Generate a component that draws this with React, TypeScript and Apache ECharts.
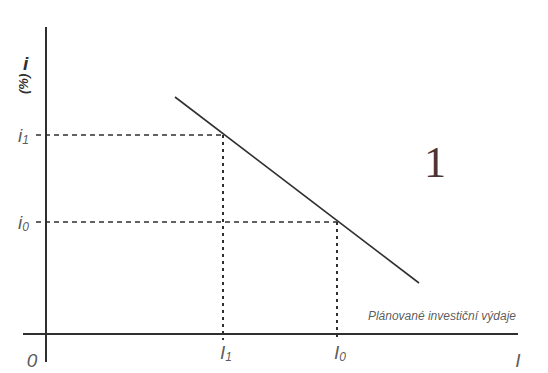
import React, { useEffect, useRef } from "react";
import * as echarts from "echarts";

// Investment quantities (I1, I0) and interest rates (i1, i0) in chart units
const investLevels = [17.7, 29.1];
const rateLevels = [19.9, 11.2];
const investNames = ["1", "0"];
const rateNames = ["1", "0"];
// Investment demand line endpoints
const demandX = [12.9, 37.3];
const demandY = [23.7, 5.1];
// Axis extents
const xRange = [-2.3, 47.2];
const yRange = [-2.8, 30.7];

const INK = "#2f2f2f";
const FONT = "Liberation Sans";

export default function App() {
  const ref = useRef<HTMLDivElement>(null);
  useEffect(() => {
    if (!ref.current) return;
    const chart = echarts.init(ref.current, undefined, { renderer: "svg" });
    const series: any[] = [];
    // axes
    series.push({
      type: "line",
      data: [[xRange[0], 0], [xRange[1], 0]],
      symbol: "none",
      lineStyle: { color: INK, width: 2 },
      clip: false,
    });
    series.push({
      type: "line",
      data: [[0, yRange[0]], [0, yRange[1]]],
      symbol: "none",
      lineStyle: { color: INK, width: 2 },
      clip: false,
    });
    // demand line
    series.push({
      type: "line",
      data: demandX.map((x, k) => [x, demandY[k]]),
      symbol: "none",
      lineStyle: { color: INK, width: 1.6 },
    });
    investLevels.forEach((I, k) => {
      const r = rateLevels[k];
      series.push({
        type: "line",
        data: [[-1.0, r], [I, r]],
        symbol: "none",
        clip: false,
        lineStyle: { color: INK, width: 1.6, type: [5, 4] },
      });
      series.push({
        type: "line",
        data: [[I, r], [I, -0.6]],
        symbol: "none",
        clip: false,
        lineStyle: { color: INK, width: 2, type: [3, 4] },
      });
    });
    const labelRich = {
      b: { fontFamily: FONT, fontStyle: "italic", fontSize: 19, color: INK },
      s: { fontFamily: FONT, fontStyle: "italic", fontSize: 12, color: INK, padding: [9, 0, 0, 0] },
    };
    // y tick labels
    series.push({
      type: "scatter",
      symbolSize: 0,
      clip: false,
      data: rateLevels.map((r, k) => ({
        value: [0, r],
        label: { formatter: "{b|i}{s|" + rateNames[k] + "}" },
      })),
      label: { show: true, position: "left", distance: 17, rich: labelRich },
    });
    // x tick labels
    series.push({
      type: "scatter",
      symbolSize: 0,
      clip: false,
      data: investLevels.map((I, k) => ({
        value: [I, 0],
        label: { formatter: "{b|I}{s|" + investNames[k] + "}" },
      })),
      label: { show: true, position: "bottom", distance: 8, offset: [3, 0], rich: labelRich },
    });
    // origin & axis-end labels
    series.push({
      type: "scatter",
      symbolSize: 0,
      clip: false,
      data: [
        { value: [0, 0], label: { formatter: "{b|0}", offset: [-14, 9] } },
        { value: [xRange[1], 0], label: { formatter: "{b|I}", offset: [0, 9] } },
        {
          value: [xRange[1], 0],
          label: {
            formatter: "Plánované investiční výdaje",
            position: "top",
            align: "right",
            offset: [-2, -4],
            fontFamily: FONT,
            fontStyle: "italic",
            fontSize: 12,
            color: INK,
          },
        },
      ],
      label: { show: true, position: "bottom", distance: 8, rich: labelRich },
    });
    chart.setOption({
      animation: false,
      backgroundColor: "#ffffff",
      grid: { left: 23, top: 27, width: 495, height: 335 },
      xAxis: { type: "value", min: xRange[0], max: xRange[1], show: false },
      yAxis: { type: "value", min: yRange[0], max: yRange[1], show: false },
      series,
      graphic: [
        {
          type: "text",
          left: 23,
          top: 54,
          style: { text: "i", font: "italic bold 19px " + FONT, fill: INK },
        },
        {
          type: "text",
          x: 17,
          y: 94,
          rotation: Math.PI / 2,
          style: { text: "(%)", font: "italic bold 13px " + FONT, fill: INK },
        },
        {
          type: "text",
          left: 424,
          top: 140,
          style: { text: "1", font: "44px Liberation Serif", fill: "#4a3535" },
        },
      ],
    });
    return () => chart.dispose();
  }, []);
  return (
    <div
      ref={ref}
      style={{ position: "fixed", left: 0, top: 0, width: 548, height: 373 }}
    />
  );
}
